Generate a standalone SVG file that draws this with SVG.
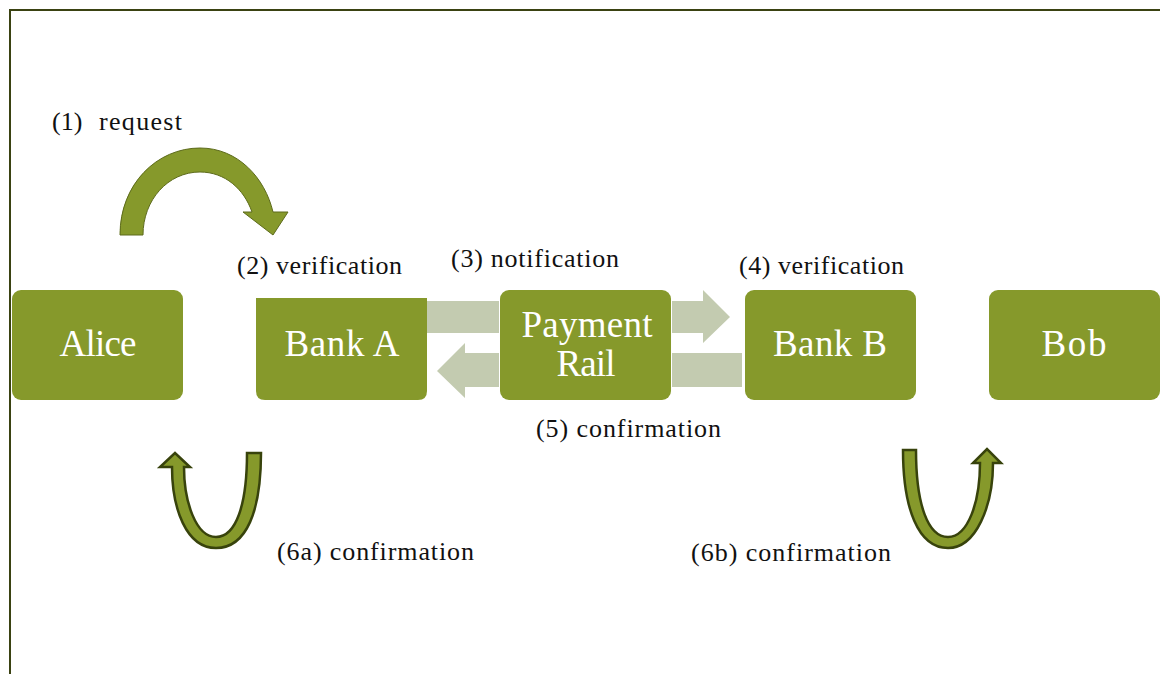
<svg xmlns="http://www.w3.org/2000/svg" width="1160" height="674" viewBox="0 0 1160 674">
<defs>
<style>
.node{fill:#86992b;}
.ntext{fill:#ffffff;font-family:"Liberation Serif",serif;font-size:37px;text-anchor:middle;}
.lbl{fill:#111111;font-family:"Liberation Serif",serif;font-size:26px;}
.flow{fill:#c3cbb0;}
.curve{fill:#86992b;stroke:#5d6b1c;stroke-width:1;}
.uarrow{fill:#86992b;stroke:#38430c;stroke-width:2.5;stroke-linejoin:miter;}
</style>
</defs>
<rect x="0" y="0" width="1160" height="674" fill="#ffffff"/>
<path d="M10,674 V10 H1160" fill="none" stroke="#3a4212" stroke-width="2"/>

<g id="connectors">
<rect class="flow" x="427" y="301" width="72" height="32"/>
<path class="flow" d="M499,353 H465 V343 L437,371 L465,398 V387 H499 Z"/>
<path class="flow" d="M672,301 H703 V290 L730,317 L703,343 V333 H672 Z"/>
<rect class="flow" x="672" y="353" width="70" height="34"/>
<path class="curve" d="M120,235 C120,184 157,148 200,148 C238,148 265,178 273,212 L288,212 L273,235 L243,212 L252,212 C244,189 225,172 200,172 C168,172 143,200 143,235 Z"/>
<path class="uarrow" d="M261,453 C261,510 247,548 216,548 C186,548 172,508 172,467 L160,467 L175,453 L190,467 L184,467 C184,502 196,537 216,537 C236,537 247,505 247,453 Z"/>
<path class="uarrow" d="M903,450 C903,508 918,548 948,548 C976,548 993,506 993,463 L1001,463 L987,449 L973,463 L980,463 C980,502 968,537 948,537 C928,537 916,505 916,450 Z"/>
</g>

<g id="node-alice">
<rect class="node" x="12" y="290" width="171" height="110" rx="9"/>
<text class="ntext" x="98" y="356" textLength="77">Alice</text>
</g>
<g id="node-bank-a">
<path class="node" d="M256,298 H427 V391 Q427,400 418,400 H265 Q256,400 256,391 Z"/>
<text class="ntext" x="342" y="356" textLength="115">Bank A</text>
</g>
<g id="node-payment-rail">
<rect class="node" x="500" y="290" width="171" height="110" rx="9"/>
<text class="ntext" x="587" y="337" textLength="131">Payment</text>
<text class="ntext" x="586" y="376" textLength="59">Rail</text>
</g>
<g id="node-bank-b">
<rect class="node" x="745" y="290" width="171" height="110" rx="9"/>
<text class="ntext" x="830" y="356" textLength="114">Bank B</text>
</g>
<g id="node-bob">
<rect class="node" x="989" y="290" width="171" height="110" rx="9"/>
<text class="ntext" x="1074" y="356" textLength="65">Bob</text>
</g>

<g id="labels">
<text class="lbl" x="52" y="130">(1)<tspan x="99" textLength="83">request</tspan></text>
<text class="lbl" x="237" y="274" textLength="165">(2) verification</text>
<text class="lbl" x="451" y="267" textLength="168">(3) notification</text>
<text class="lbl" x="739" y="274" textLength="165">(4) verification</text>
<text class="lbl" x="536" y="437" textLength="185">(5) confirmation</text>
<text class="lbl" x="277" y="560" textLength="197">(6a) confirmation</text>
<text class="lbl" x="691" y="561" textLength="200">(6b) confirmation</text>
</g>
</svg>
